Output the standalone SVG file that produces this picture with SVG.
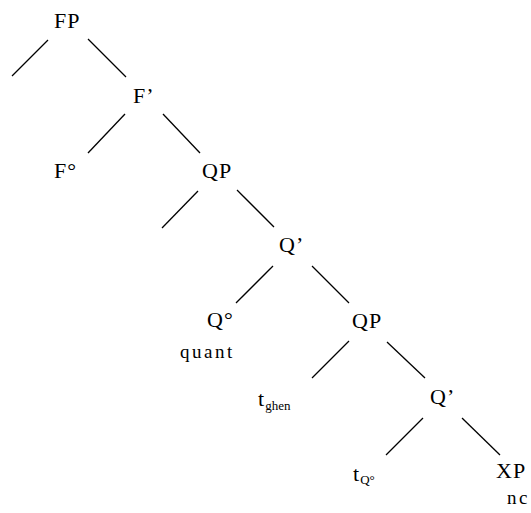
<svg xmlns="http://www.w3.org/2000/svg" width="531" height="513" viewBox="0 0 531 513">
<style>
  text { font-family: "Liberation Serif", "DejaVu Serif", serif; fill: #000; }
  .lbl { font-size: 22px; letter-spacing: 1px; }
  .small { font-size: 19px; letter-spacing: 2.5px; }
  .sub { font-size: 13px; letter-spacing: 0; }
  .deg { font-size: 22px; letter-spacing: 0; }
  .edge { stroke: #000; stroke-width: 1.3; fill: none; }
</style>
<rect width="531" height="513" fill="#fff"/>
<g id="connectors">
  <line class="edge" x1="48" y1="40" x2="12" y2="76"/>
  <line class="edge" x1="88" y1="39" x2="126" y2="77"/>
  <line class="edge" x1="125" y1="114" x2="88" y2="153"/>
  <line class="edge" x1="163" y1="114" x2="200" y2="153"/>
  <line class="edge" x1="198" y1="191" x2="162" y2="228"/>
  <line class="edge" x1="237" y1="190" x2="274" y2="227"/>
  <line class="edge" x1="273" y1="266" x2="236" y2="303"/>
  <line class="edge" x1="312" y1="266" x2="349" y2="303"/>
  <line class="edge" x1="349" y1="341" x2="312" y2="378"/>
  <line class="edge" x1="387" y1="342" x2="425" y2="378"/>
  <line class="edge" x1="423" y1="418" x2="386" y2="455"/>
  <line class="edge" x1="462" y1="418" x2="500" y2="455"/>
</g>
<g id="node-FP"><text class="lbl" x="54" y="28" font-family="Liberation Serif, serif">FP</text></g>
<g id="node-Fbar"><text class="lbl" x="133" y="103" font-family="Liberation Serif, serif">F’</text></g>
<g id="node-F0"><text class="lbl" x="54" y="178" font-family="Liberation Serif, serif">F<tspan class="deg">°</tspan></text></g>
<g id="node-QP1"><text class="lbl" x="202" y="178" font-family="Liberation Serif, serif">QP</text></g>
<g id="node-Qbar1"><text class="lbl" x="279" y="252" font-family="Liberation Serif, serif">Q’</text></g>
<g id="node-Q0"><text class="lbl" x="207" y="327" font-family="Liberation Serif, serif">Q<tspan class="deg">°</tspan></text>
  <text class="small" x="180" y="358" font-family="Liberation Serif, serif">quant</text></g>
<g id="node-QP2"><text class="lbl" x="352" y="328" font-family="Liberation Serif, serif">QP</text></g>
<g id="node-tghen"><text class="lbl" x="258" y="406" font-family="Liberation Serif, serif">t<tspan class="sub" dy="4">ghen</tspan></text></g>
<g id="node-Qbar2"><text class="lbl" x="430" y="404" font-family="Liberation Serif, serif">Q’</text></g>
<g id="node-tQ0"><text class="lbl" x="353" y="481" font-family="Liberation Serif, serif">t<tspan class="sub" dy="3">Q°</tspan></text></g>
<g id="node-XP"><text class="lbl" x="496" y="478" font-family="Liberation Serif, serif">XP</text>
  <text class="small" x="507" y="504" font-family="Liberation Serif, serif">nc</text></g>
</svg>
